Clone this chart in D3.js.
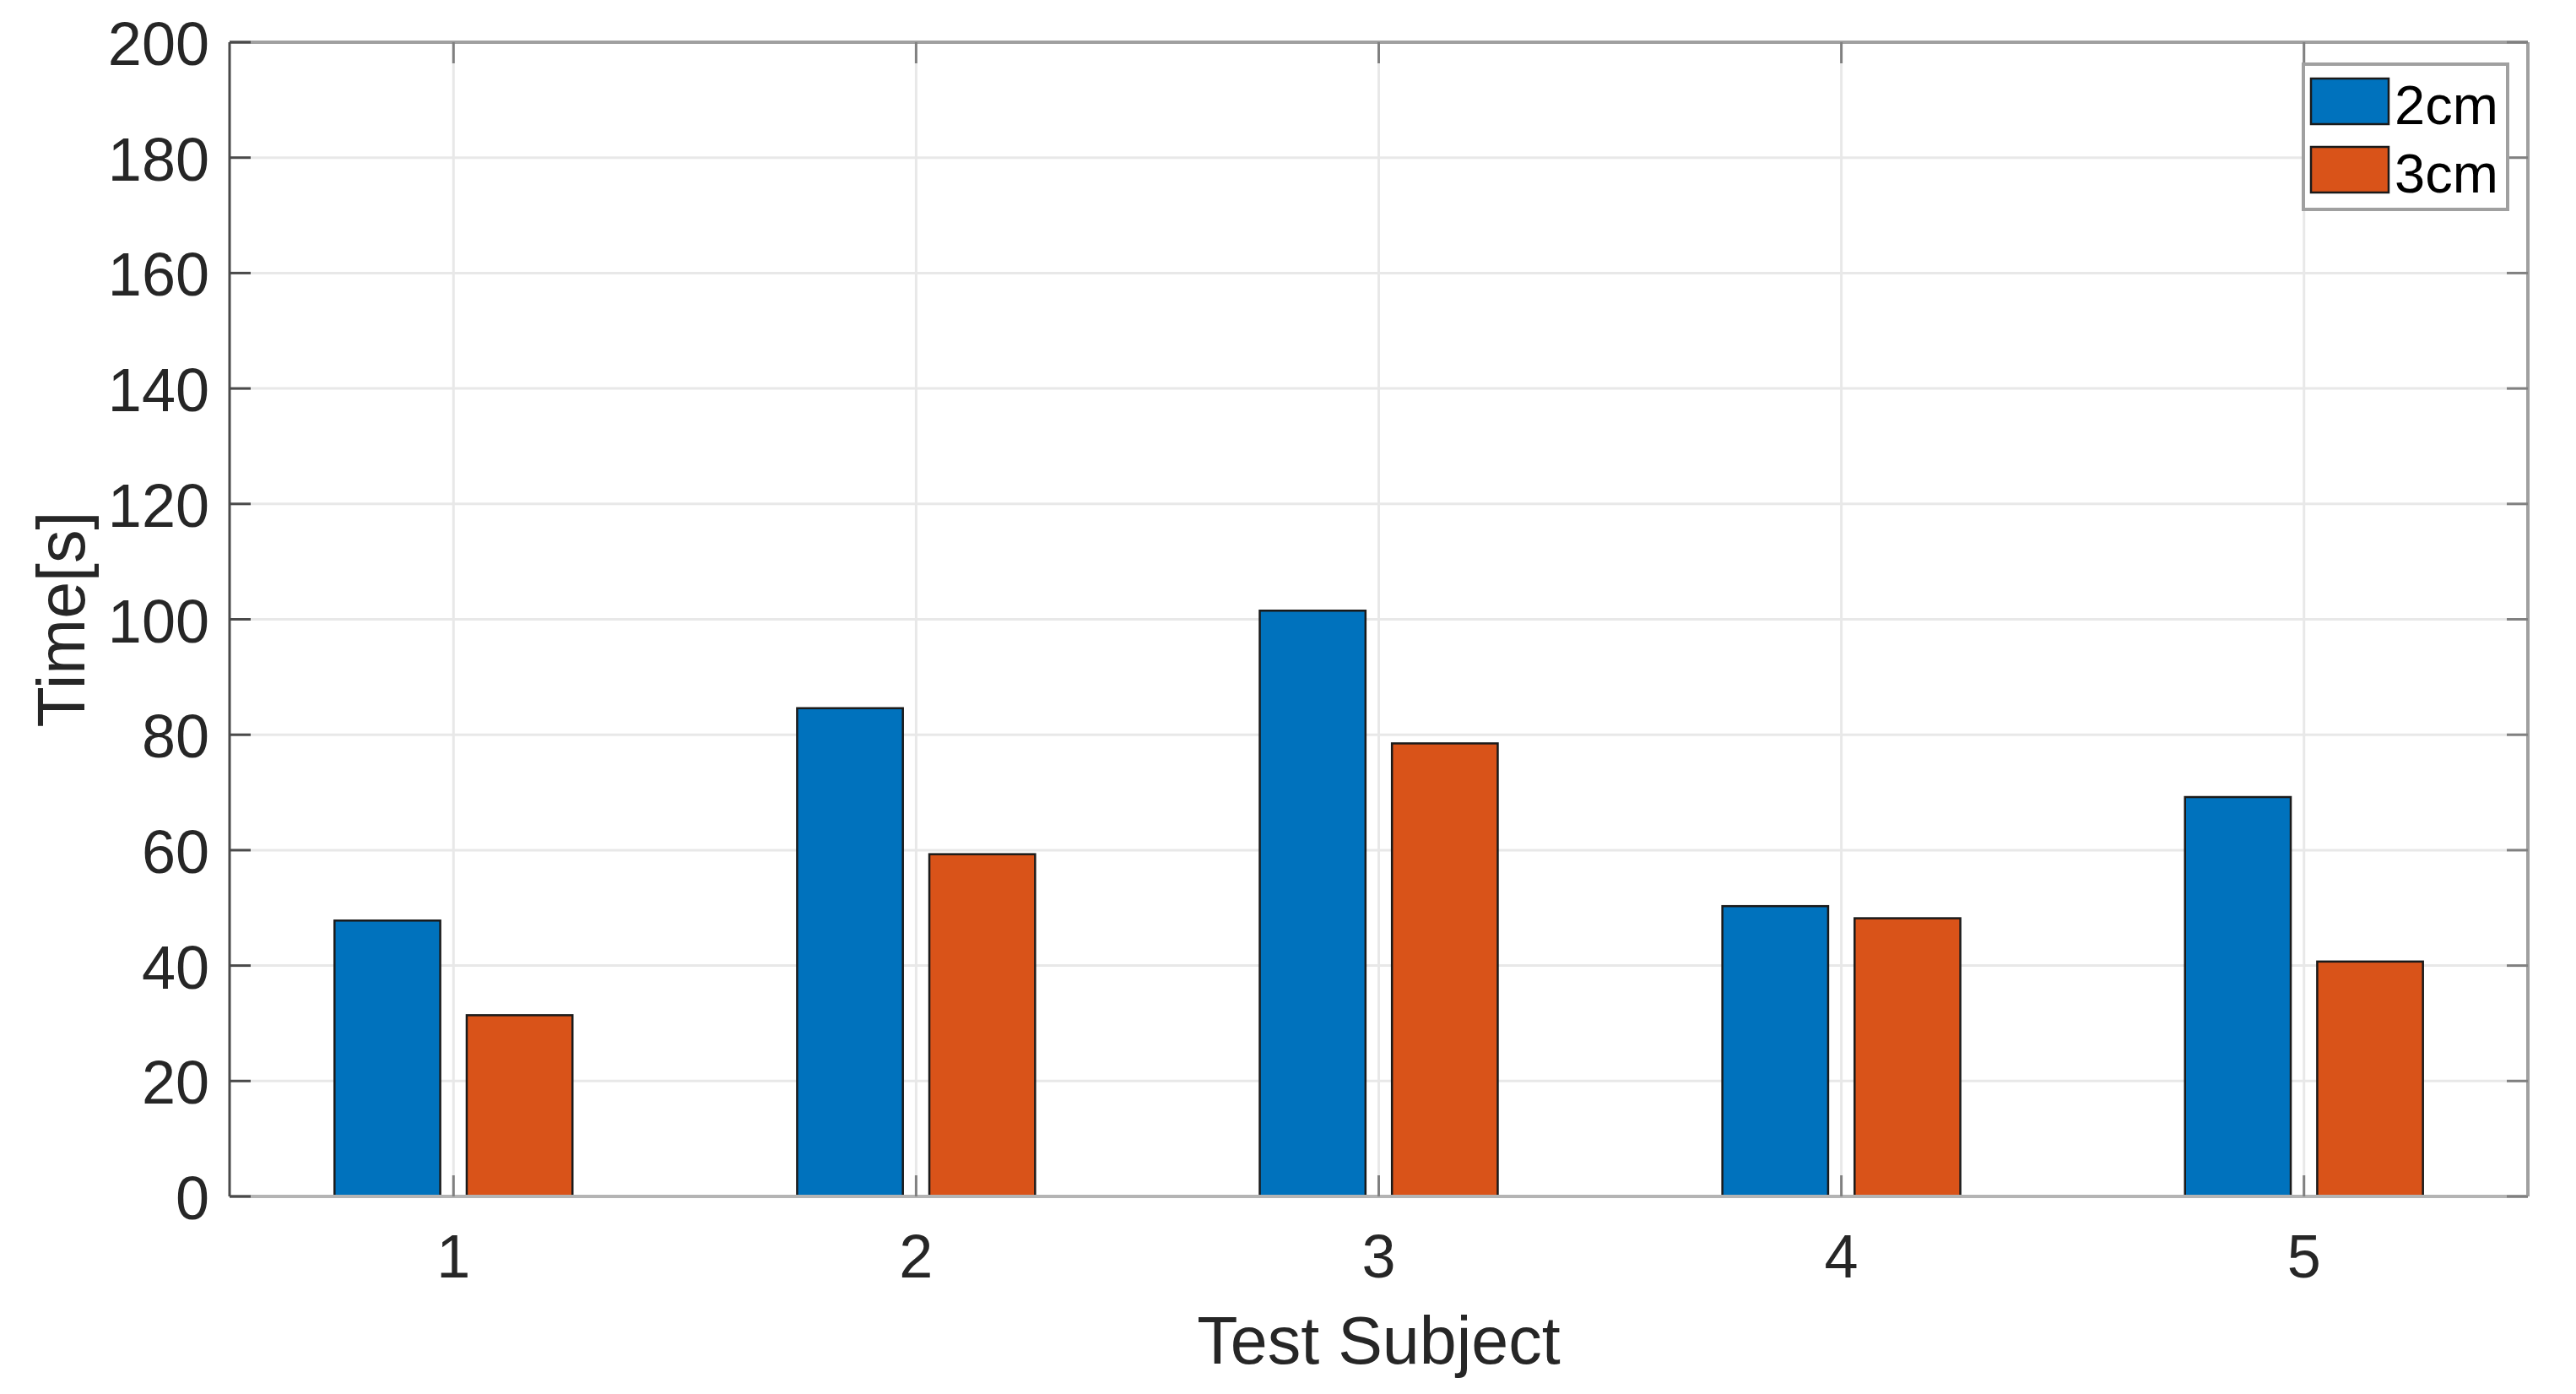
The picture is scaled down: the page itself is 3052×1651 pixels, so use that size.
<!DOCTYPE html>
<html>
<head>
<meta charset="utf-8">
<script src="https://cdn.jsdelivr.net/npm/d3@7"></script>
<style>
html,body{margin:0;padding:0;background:#fff;}
svg{display:block;font-family:"Liberation Sans",Arial,sans-serif;}
</style>
</head>
<body>
<svg id="chart" width="3052" height="1651"></svg>
<script>
const categories = [1, 2, 3, 4, 5];
const series = ["2cm", "3cm"];
const values2cm = [47.8, 84.6, 101.5, 50.3, 69.2];
const values3cm = [31.4, 59.3, 78.5, 48.2, 40.7];
const yTicks = [0, 20, 40, 60, 80, 100, 120, 140, 160, 180, 200];
const colors = ["#0072BD", "#D95319"];
const xLabel = "Test Subject";
const yLabel = "Time[s]";

const W = 3052, H = 1651;
const L = 272, R = 2995, T = 50, B = 1417;
const svg = d3.select("#chart");

const x = d3.scaleLinear().domain([0.516, 5.484]).range([L, R]);
const y = d3.scaleLinear().domain([0, 200]).range([B, T]);

const barW = 0.2286, offs = [-0.1429, 0.1429];
const data = [values2cm, values3cm];

// grid
const g = svg.append("g");
g.selectAll("line.hg").data(yTicks.slice(1, -1)).enter().append("line")
  .attr("x1", L).attr("x2", R).attr("y1", d => y(d)).attr("y2", d => y(d))
  .attr("stroke", "#e8e8e8").attr("stroke-width", 3);
g.selectAll("line.vg").data(categories).enter().append("line")
  .attr("y1", T).attr("y2", B).attr("x1", d => x(d)).attr("x2", d => x(d))
  .attr("stroke", "#e8e8e8").attr("stroke-width", 3);

// bars
data.forEach((vals, si) => {
  svg.append("g").selectAll("rect").data(vals).enter().append("rect")
    .attr("x", (d, i) => x(categories[i] + offs[si] - barW / 2))
    .attr("width", x(barW) - x(0))
    .attr("y", d => y(d))
    .attr("height", d => y(0) - y(d))
    .attr("fill", colors[si])
    .attr("stroke", "#1a1a1a").attr("stroke-width", 2.5);
});

// axes frame
const fr = svg.append("g");
fr.append("line").attr("x1", L).attr("x2", R).attr("y1", T).attr("y2", T).attr("stroke", "#a0a0a0").attr("stroke-width", 4);
fr.append("line").attr("x1", R).attr("x2", R).attr("y1", T).attr("y2", B).attr("stroke", "#a0a0a0").attr("stroke-width", 4);
fr.append("line").attr("x1", L).attr("x2", R).attr("y1", B).attr("y2", B).attr("stroke", "#b4b4b4").attr("stroke-width", 4);
fr.append("line").attr("x1", L).attr("x2", L).attr("y1", T).attr("y2", B).attr("stroke", "#4a4a4a").attr("stroke-width", 3);

// ticks (inward)
const tl = 25;
fr.selectAll("line.yt").data(yTicks).enter().append("line")
  .attr("x1", L).attr("x2", L + tl).attr("y1", d => y(d)).attr("y2", d => y(d))
  .attr("stroke", "#4a4a4a").attr("stroke-width", 3);
fr.selectAll("line.yt2").data(yTicks).enter().append("line")
  .attr("x1", R - tl).attr("x2", R).attr("y1", d => y(d)).attr("y2", d => y(d))
  .attr("stroke", "#808080").attr("stroke-width", 3);
fr.selectAll("line.xt").data(categories).enter().append("line")
  .attr("x1", d => x(d)).attr("x2", d => x(d)).attr("y1", B).attr("y2", B - tl)
  .attr("stroke", "#808080").attr("stroke-width", 3);
fr.selectAll("line.xt2").data(categories).enter().append("line")
  .attr("x1", d => x(d)).attr("x2", d => x(d)).attr("y1", T).attr("y2", T + tl)
  .attr("stroke", "#808080").attr("stroke-width", 3);

// tick labels
svg.append("g").selectAll("text").data(yTicks).enter().append("text")
  .attr("x", L - 24).attr("y", d => y(d) + 27)
  .attr("text-anchor", "end").attr("font-size", 72).attr("fill", "#262626")
  .text(d => d);
svg.append("g").selectAll("text").data(categories).enter().append("text")
  .attr("x", d => x(d)).attr("y", 1513)
  .attr("text-anchor", "middle").attr("font-size", 72).attr("fill", "#262626")
  .text(d => d);

// axis labels
svg.append("text").attr("x", (L + R) / 2).attr("y", 1615)
  .attr("text-anchor", "middle").attr("font-size", 79).attr("fill", "#262626")
  .text(xLabel);
svg.append("text").attr("transform", `translate(100,${(T + B) / 2}) rotate(-90)`)
  .attr("text-anchor", "middle").attr("font-size", 79).attr("fill", "#262626")
  .text(yLabel);

// legend
const lg = svg.append("g");
lg.append("rect").attr("x", 2729).attr("y", 76).attr("width", 242).attr("height", 172)
  .attr("fill", "#fff").attr("stroke", "#a0a0a0").attr("stroke-width", 4);
series.forEach((s, i) => {
  const yy = 93 + i * 81;
  lg.append("rect").attr("x", 2738).attr("y", yy).attr("width", 92).attr("height", 54)
    .attr("fill", colors[i]).attr("stroke", "#1a1a1a").attr("stroke-width", 2.5);
  lg.append("text").attr("x", 2837).attr("y", yy + 54).attr("font-size", 65).attr("fill", "#000")
    .text(s);
});
</script>
</body>
</html>
